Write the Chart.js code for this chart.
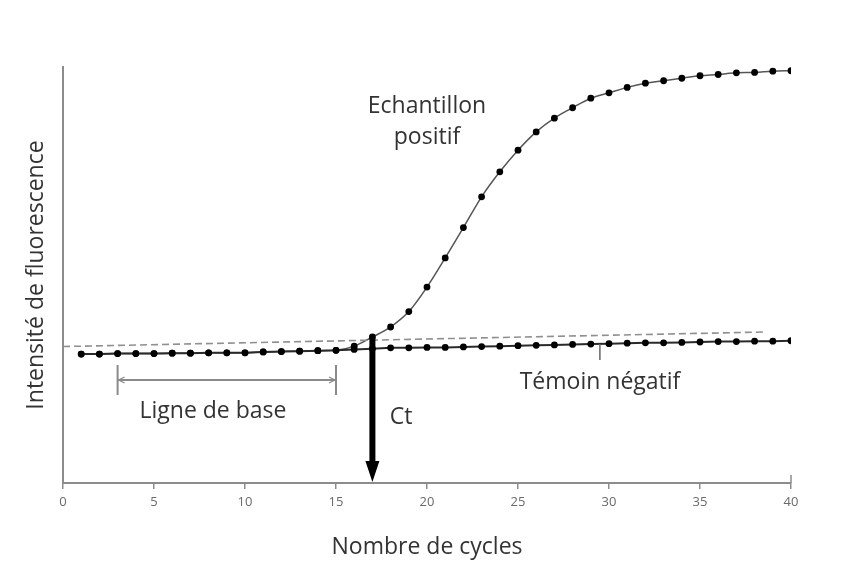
<!DOCTYPE html>
<html>
<head>
<meta charset="utf-8">
<script src="https://cdn.jsdelivr.net/npm/chart.js"></script>
<style>
    html, body { margin: 0; padding: 0; background: #ffffff; }
    #wrap { width: 842px; height: 565px; }
</style>
</head>
<body>
<div id="wrap"><canvas id="pcrChart" width="842" height="565"></canvas></div>
<script>
"use strict"

// Chart data
const cycles = [1, 2, 3, 4, 5, 6, 7, 8, 9, 10, 11, 12, 13, 14, 15, 16, 17, 18, 19, 20,
    21, 22, 23, 24, 25, 26, 27, 28, 29, 30, 31, 32, 33, 34, 35, 36, 37, 38, 39, 40];
const positiveValues = [31.0, 31.0, 31.1, 31.1, 31.1, 31.2, 31.2, 31.3, 31.3, 31.3,
    31.5, 31.6, 31.7, 31.8, 31.9, 32.9, 35.1, 37.5, 41.2, 47.1,
    54.1, 61.4, 68.8, 74.8, 80.0, 84.4, 87.7, 90.2, 92.5, 93.8,
    95.1, 96.1, 96.7, 97.3, 97.9, 98.2, 98.6, 98.7, 99.0, 99.1];
const negativeValues = [31.0, 31.0, 31.1, 31.1, 31.1, 31.2, 31.2, 31.3, 31.3, 31.3,
    31.5, 31.6, 31.7, 31.8, 31.9, 32.1, 32.3, 32.5, 32.5, 32.6,
    32.6, 32.7, 32.8, 32.9, 33.0, 33.1, 33.2, 33.3, 33.4, 33.5,
    33.6, 33.7, 33.7, 33.8, 33.9, 34.0, 34.0, 34.1, 34.1, 34.2];
const thresholdCycles = [0, 38.6];
const thresholdValues = [32.8, 36.3];
const xTicks = [0, 5, 10, 15, 20, 25, 30, 35, 40];
const ctCycle = 17;
const baselineCycles = [3, 15];

const textFont = '"Open Sans", "DejaVu Sans", sans-serif';

function ToPoints(xs, ys) {
    return xs.map((x, i) => ({ x: x, y: ys[i] }));
}

// Annotations: Ct arrow, baseline bracket, labels
const annotationsPlugin = {
    id: 'pcrAnnotations',
    afterDatasetsDraw(chart) {
        const { ctx, scales: { x, y } } = chart;
        ctx.save();

        // End tick of the x axis at 40
        const endX = x.getPixelForValue(40);
        const axisY = y.getPixelForValue(0);
        ctx.strokeStyle = "#8c8c8c";
        ctx.lineWidth = 1.5;
        ctx.beginPath();
        ctx.moveTo(endX, axisY - 8);
        ctx.lineTo(endX, axisY);
        ctx.stroke();

        // Ct arrow
        const ctX = x.getPixelForValue(ctCycle);
        const ctTop = y.getPixelForValue(positiveValues[cycles.indexOf(ctCycle)]);
        const ctBottom = axisY;
        ctx.strokeStyle = "#000000";
        ctx.fillStyle = "#000000";
        ctx.lineWidth = 6;
        ctx.beginPath();
        ctx.moveTo(ctX, ctTop);
        ctx.lineTo(ctX, ctBottom - 18);
        ctx.stroke();
        ctx.beginPath();
        ctx.moveTo(ctX - 7, ctBottom - 22);
        ctx.lineTo(ctX + 7, ctBottom - 22);
        ctx.lineTo(ctX, ctBottom - 1);
        ctx.closePath();
        ctx.fill();

        // Baseline bracket
        const bx1 = x.getPixelForValue(baselineCycles[0]);
        const bx2 = x.getPixelForValue(baselineCycles[1]);
        const by = 380;
        ctx.strokeStyle = "#8a8a8a";
        ctx.lineWidth = 2;
        ctx.beginPath();
        ctx.moveTo(bx1, by);
        ctx.lineTo(bx2, by);
        ctx.moveTo(bx1, by - 15);
        ctx.lineTo(bx1, by + 15);
        ctx.moveTo(bx2, by - 15);
        ctx.lineTo(bx2, by + 15);
        ctx.stroke();
        ctx.lineWidth = 1.2;
        ctx.beginPath();
        ctx.moveTo(bx1 + 7, by - 3);
        ctx.lineTo(bx1 + 1, by);
        ctx.lineTo(bx1 + 7, by + 3);
        ctx.moveTo(bx2 - 7, by - 3);
        ctx.lineTo(bx2 - 1, by);
        ctx.lineTo(bx2 - 7, by + 3);
        ctx.stroke();

        // Small pointer under the negative control line
        const tx = x.getPixelForValue(29.5);
        ctx.strokeStyle = "#666666";
        ctx.lineWidth = 1.5;
        ctx.beginPath();
        ctx.moveTo(tx, 344);
        ctx.lineTo(tx, 360);
        ctx.stroke();

        // Labels
        ctx.fillStyle = "#333333";
        ctx.font = '23px ' + textFont;
        ctx.textAlign = "center";
        ctx.textBaseline = "middle";
        ctx.fillText("Echantillon", 427, 106);
        ctx.fillText("positif", 427, 137);
        ctx.fillText("Ligne de base", 213, 411);
        ctx.fillText("Ct", 401, 417);
        ctx.fillText("Témoin négatif", 600, 382);

        ctx.restore();
    }
};

const chartElement = document.getElementById("pcrChart");

new Chart(chartElement, {
    type: 'line',
    data: {
        datasets: [
            {
                label: "Seuil",
                data: ToPoints(thresholdCycles, thresholdValues),
                borderColor: "#8f8f8f",
                borderWidth: 1.6,
                borderDash: [7, 4],
                pointRadius: 0,
                tension: 0
            },
            {
                label: "Témoin négatif",
                data: ToPoints(cycles, negativeValues),
                borderColor: "#2a2a2a",
                borderWidth: 2,
                pointRadius: 3.4,
                pointBackgroundColor: "#000000",
                pointBorderWidth: 0,
                tension: 0
            },
            {
                label: "Echantillon positif",
                data: ToPoints(cycles, positiveValues),
                borderColor: "#555555",
                borderWidth: 1.5,
                pointRadius: 3.4,
                pointBackgroundColor: "#000000",
                pointBorderWidth: 0,
                cubicInterpolationMode: 'monotone'
            }
        ]
    },
    options: {
        responsive: false,
        animation: false,
        devicePixelRatio: 1,
        layout: {
            padding: { top: 67, right: 51, left: 0, bottom: 0 }
        },
        plugins: {
            legend: { display: false },
            tooltip: { enabled: false }
        },
        scales: {
            x: {
                type: 'linear',
                min: 0,
                max: 40,
                afterFit(scale) { scale.height = 82; },
                afterBuildTicks(scale) { scale.ticks = xTicks.map(v => ({ value: v })); },
                border: { display: true, color: "#8c8c8c", width: 2 },
                grid: { display: true, drawOnChartArea: false, tickLength: 6, color: "#8c8c8c", lineWidth: 1.5 },
                ticks: { color: "#6a6a6a", padding: 5, font: { size: 13, family: textFont } },
                title: {
                    display: true,
                    text: "Nombre de cycles",
                    color: "#333333",
                    font: { size: 23, family: textFont },
                    padding: { top: 0, bottom: 4 }
                }
            },
            y: {
                min: 0,
                max: 100,
                afterFit(scale) { scale.width = 63; },
                border: { display: true, color: "#8c8c8c", width: 2 },
                grid: { display: false },
                ticks: { display: false },
                title: {
                    display: true,
                    text: "Intensité de fluorescence",
                    color: "#333333",
                    font: { size: 23, family: textFont },
                    padding: { top: 23, bottom: 0 }
                }
            }
        }
    },
    plugins: [annotationsPlugin]
});
</script>
</body>
</html>
